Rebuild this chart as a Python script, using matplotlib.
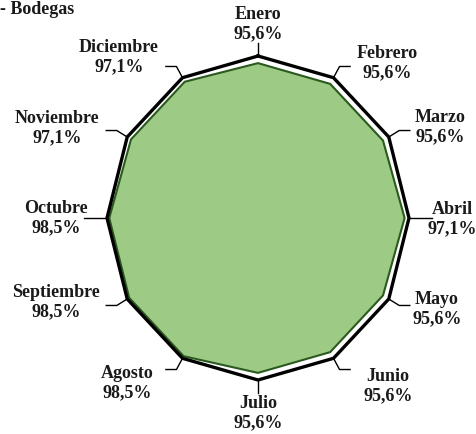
import numpy as np
import matplotlib
matplotlib.use('Agg')
import matplotlib.pyplot as plt

# monthly occupancy, bodegas
meses = ['Enero', 'Febrero', 'Marzo', 'Abril', 'Mayo', 'Junio',
         'Julio', 'Agosto', 'Septiembre', 'Octubre', 'Noviembre', 'Diciembre']
valores = [95.6, 95.6, 95.6, 97.1, 95.6, 95.6,
           95.6, 98.5, 98.5, 98.5, 97.1, 97.1]
maximo = [100.0] * 12

W, H = 476, 434
CX, CY = 258, 218      # centre, pixels
RX, RY = 151, 162      # radius of 100% along x and y, pixels

# label centres (pixels) and direction of the leader's horizontal tail
label_pos = [(258, 24), (387, 63), (440, 127), (452, 219), (437, 309), (388, 386),
             (258, 413), (127, 383), (56, 302), (56, 218), (57, 128), (119, 57)]
tail = [0, 1, 1, 1, 1, 1, 0, -1, -1, -1, -1, -1]

plt.rcParams['font.family'] = ['Liberation Serif', 'DejaVu Serif']


def to_xy(r, i):
    ang = np.deg2rad(i * 30)
    return r / 100 * np.sin(ang), r / 100 * np.cos(ang)


fig = plt.figure(figsize=(W / 100, H / 100), dpi=100)
ax = fig.add_axes([0, 0, 1, 1])
ax.set_xlim(-CX / RX, (W - CX) / RX)
ax.set_ylim(-(H - CY) / RY, CY / RY)
ax.axis('off')

idx = np.arange(12)
xs, ys = to_xy(np.array(valores), idx)
xo, yo = to_xy(np.array(maximo), idx)

ax.fill(np.append(xs, xs[0]), np.append(ys, ys[0]), color='#9dcb86',
        edgecolor='#2a5a1e', linewidth=1.5, zorder=2)
ax.plot(np.append(xo, xo[0]), np.append(yo, yo[0]), color='black',
        linewidth=2.4, solid_joinstyle='miter', zorder=3)

for i, mes in enumerate(meses):
    x0, y0 = xo[i], yo[i]
    x1, y1 = to_xy(108, i)
    if tail[i] == 0:
        ax.plot([x0, x1], [y0, y1], color='black', lw=1.0, zorder=1)
    else:
        ax.plot([x0, x1, x1 + tail[i] * 0.07], [y0, y1, y1],
                color='black', lw=1.0, zorder=1)
    px, py = label_pos[i]
    tx = (px - CX) / RX
    ty = (CY - py) / RY
    ax.text(tx, ty, f'{mes}\n{valores[i]:.1f}%'.replace('.', ','),
            ha='center', va='center', fontsize=13, fontweight='bold',
            linespacing=1.2, color='#1a1a1a')

ax.text(-CX / RX, CY / RY - 0.005, '- Bodegas', ha='left', va='top',
        fontsize=13, fontweight='bold', color='#1a1a1a')

fig.savefig('out.png', dpi=100)
